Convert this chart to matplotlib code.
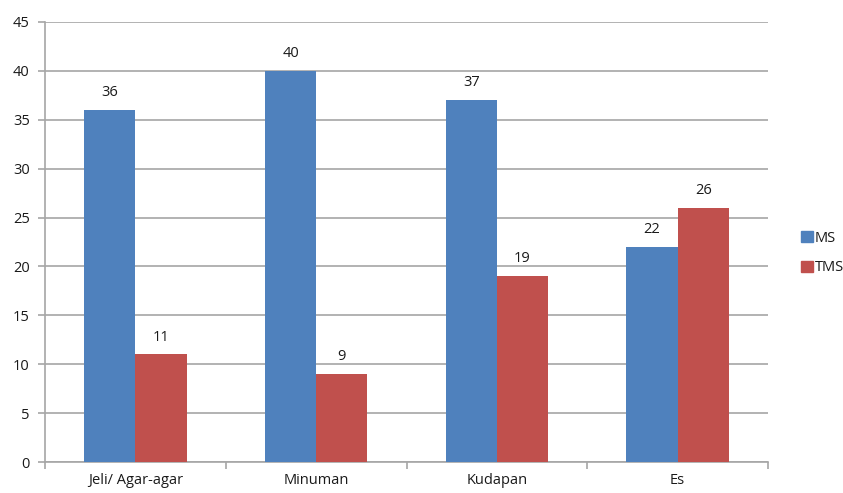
import numpy as np
import matplotlib
matplotlib.use("Agg")
import matplotlib.pyplot as plt
from matplotlib.patches import Patch

categories = ["Jeli/ Agar-agar", "Minuman", "Kudapan", "Es"]
ms = [36, 40, 37, 22]
tms = [11, 9, 19, 26]

BLUE = "#4F81BD"
RED = "#C0504D"
GRID = "#A6A6A6"
TXT = "#1a1a1a"

plt.rcParams["font.family"] = ["Open Sans", "DejaVu Sans"]

fig = plt.figure(figsize=(8.43, 4.93), dpi=100)
ax = fig.add_axes([45 / 843, 1 - 462 / 493, (768 - 45) / 843, (462 - 22) / 493])

x = np.arange(len(categories))
w = 0.283
b1 = ax.bar(x - w / 2, ms, w, color=BLUE, zorder=3)
b2 = ax.bar(x + w / 2, tms, w, color=RED, zorder=3)
for bars in (b1, b2):
    for r in bars:
        ax.text(r.get_x() + r.get_width() / 2, r.get_height() + 1.0, f"{r.get_height():g}",
                ha="center", va="bottom", fontsize=10.5, color=TXT)

ax.set_xlim(-0.5, len(categories) - 0.5)
ax.set_ylim(0, 45)
ax.set_yticks(range(0, 46, 5))
ax.yaxis.grid(True, color=GRID, lw=1.2, zorder=0)
ax.set_xticks(x)
ax.set_xticklabels(categories, fontsize=10.5, color=TXT)
ax.set_xticks(np.arange(-0.5, len(categories), 1), minor=True)
ax.tick_params(axis="x", which="major", length=0, pad=8)
ax.tick_params(axis="x", which="minor", length=5, color=GRID, width=1.2)
ax.tick_params(axis="y", length=5, color=GRID, width=1.2, labelsize=10.5, labelcolor=TXT, pad=6)
for s in ("top", "right"):
    ax.spines[s].set_visible(False)
for s in ("left", "bottom"):
    ax.spines[s].set_color(GRID)
    ax.spines[s].set_linewidth(1.2)

handles = [Patch(color=BLUE, label="MS"), Patch(color=RED, label="TMS")]
leg = fig.legend(handles=handles, loc="center left", bbox_to_anchor=(788 / 843, 1 - 253 / 493),
                 frameon=False, fontsize=10.5, handlelength=0.8, handleheight=0.8,
                 handletextpad=0.15, labelspacing=1.0)
for t in leg.get_texts():
    t.set_color(TXT)

fig.savefig("out.png", dpi=100)
